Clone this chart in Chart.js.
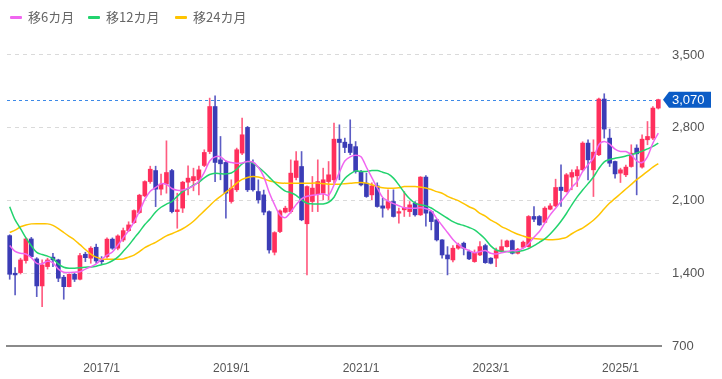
<!DOCTYPE html>
<html><head><meta charset="utf-8">
<script src="https://cdn.jsdelivr.net/npm/chart.js@4/dist/chart.umd.min.js"></script>
<style>
body{margin:0;background:#fff;}
#wrap{position:relative;width:722px;height:379px;}
.lg{position:absolute;top:8px;height:18px;font-family:"Noto Sans CJK JP","Noto Sans",sans-serif;font-size:13px;color:#666;line-height:18px;white-space:nowrap;}
.lg i{position:absolute;left:0;top:8px;width:12px;height:3px;border-radius:1px;}
.lg span{position:absolute;left:18px;top:0;}
</style></head>
<body>
<div id="wrap">
<canvas id="c" width="722" height="379"></canvas>
<div class="lg" style="left:10px"><i style="background:#f066f0"></i><span>移6カ月</span></div>
<div class="lg" style="left:88px"><i style="background:#22d36e"></i><span>移12カ月</span></div>
<div class="lg" style="left:175px"><i style="background:#ffc400"></i><span>移24カ月</span></div>
</div>
<script>
// monthly candles 2015/8 .. 2025/8
const startYear = 2015, startMonth = 8, monthCount = 121;
const tickLabels = ['2017/1','2019/1','2021/1','2023/1','2025/1'];
const yTicks = [700,1400,2100,2800,3500];

const opens = [1762,1400,1406,1522,1730,1538,1278,1464,1555,1528,
1362,1271,1390,1342,1583,1545,1650,1528,1560,1728,
1641,1720,1810,1887,1984,2144,2282,2388,2209,2258,
2388,1993,2027,2276,2290,2299,2437,2571,3004,2491,
2466,2090,2203,2556,2803,2459,2186,2154,1993,1602,
1801,1988,1993,2321,2427,1876,2090,2164,2170,2282,
2299,2690,2661,2642,2618,2378,2267,2154,2241,2048,
2026,2090,1978,2010,1993,2074,1962,2325,1993,1914,
1721,1576,1528,1641,1689,1608,1512,1576,1666,1545,
1545,1608,1656,1714,1592,1650,1656,1946,1946,1890,
2016,2048,2228,2186,2325,2337,2395,2652,2395,2540,
3076,2700,2475,2363,2347,2427,2604,2421,2684,2700,
2989];
const highs = [1770,1454,1545,1740,1745,1550,1528,1545,1592,1535,
1380,1395,1400,1592,1602,1656,1680,1560,1740,1740,
1770,1835,1895,2010,2160,2290,2430,2430,2353,2674,
2400,2170,2285,2433,2411,2430,2588,3085,3108,2716,
2480,2299,2604,2892,2813,2491,2299,2200,2000,1800,
2010,2045,2491,2571,2571,2240,2331,2491,2411,2475,
2844,2828,2700,2876,2667,2390,2363,2270,2270,2122,
2203,2203,2026,2186,2090,2090,2330,2340,2000,1920,
1725,1656,1665,1690,1700,1624,1624,1704,1680,1550,
1641,1721,1720,1720,1640,1710,1955,2041,1955,2040,
2070,2305,2443,2360,2395,2427,2665,2684,2684,3085,
3127,2787,2480,2411,2440,2636,2636,2732,2860,3004,
3075];
const lows = [1342,1191,1393,1496,1550,1175,1078,1440,1464,1319,
1150,1268,1320,1335,1512,1496,1496,1490,1545,1630,
1625,1705,1800,1880,1975,2135,2265,2041,2154,2170,
1980,1833,1984,2154,2193,2154,2425,2550,2282,2299,
1930,2074,2186,2540,2186,2190,2074,1962,1592,1576,
1790,1980,1978,2299,1905,1384,1993,1993,2106,2106,
2267,2299,2560,2540,2363,2240,2130,2106,2035,1939,
2010,1940,1881,1946,1946,1950,1955,1852,1817,1710,
1545,1384,1510,1630,1576,1530,1505,1570,1495,1490,
1464,1600,1650,1585,1585,1640,1650,1897,1860,1885,
2010,2040,2042,2180,2203,2234,2390,2299,2138,2530,
2700,2427,2315,2273,2330,2420,2154,2411,2636,2684,
2980];
const closes = [1390,1384,1528,1730,1560,1278,1480,1528,1528,1352,
1271,1390,1342,1570,1550,1641,1518,1512,1728,1641,
1759,1810,1865,2003,2151,2282,2401,2209,2258,2369,
1993,2010,2276,2315,2330,2395,2562,3004,2466,2453,
2170,2219,2588,2732,2203,2203,2106,1988,1624,1791,
2000,2026,2363,2481,1914,2234,2219,2282,2299,2347,
2690,2658,2610,2562,2378,2250,2138,2241,2042,2026,
2090,1946,1993,2032,2058,1962,2325,1978,1897,1721,
1576,1538,1641,1673,1641,1538,1598,1656,1502,1496,
1618,1656,1711,1592,1631,1699,1946,1920,1865,2026,
2048,2225,2196,2347,2369,2395,2652,2491,2565,3076,
2787,2459,2356,2395,2421,2555,2549,2690,2716,2989,
3070];
const ma6 = [1666,1610,1592,1585,1550,1495,1492,1515,1500,1440,
1410,1406,1410,1415,1440,1462,1490,1535,1575,1605,
1670,1740,1810,1895,1995,2110,2190,2225,2260,2255,
2215,2198,2200,2217,2240,2285,2370,2480,2520,2520,
2480,2465,2458,2460,2475,2470,2420,2330,2180,2060,
1960,1935,1990,2060,2115,2140,2150,2158,2165,2150,
2250,2370,2480,2520,2535,2520,2420,2320,2220,2130,
2095,2070,2050,2030,2025,2025,2030,2020,2000,1925,
1860,1792,1725,1676,1641,1618,1598,1608,1618,1592,
1586,1598,1608,1618,1618,1641,1682,1747,1801,1882,
1962,2026,2090,2154,2228,2282,2379,2443,2507,2636,
2667,2642,2594,2571,2571,2539,2481,2465,2523,2652,
2748];
const ma12 = [2040,1913,1830,1740,1665,1600,1580,1565,1540,1490,
1458,1448,1448,1452,1458,1460,1468,1482,1495,1520,
1555,1610,1668,1735,1800,1868,1925,1990,2035,2065,
2090,2140,2185,2215,2248,2275,2318,2350,2363,2358,
2356,2365,2400,2453,2475,2459,2421,2376,2325,2273,
2228,2190,2175,2150,2106,2074,2067,2067,2067,2083,
2131,2234,2311,2356,2385,2379,2379,2388,2388,2372,
2356,2315,2250,2177,2116,2074,2058,2048,2028,1995,
1962,1929,1896,1873,1859,1840,1817,1776,1727,1663,
1624,1612,1608,1605,1608,1618,1637,1666,1698,1730,
1778,1835,1900,1975,2058,2135,2200,2262,2326,2407,
2472,2494,2506,2515,2528,2541,2557,2575,2596,2620,
2652];
const ma24 = [1793,1815,1847,1865,1875,1877,1876,1875,1860,1830,
1792,1755,1720,1675,1628,1585,1555,1538,1535,1535,
1535,1538,1555,1575,1608,1647,1673,1697,1728,1760,
1780,1803,1828,1860,1900,1950,2000,2050,2100,2140,
2180,2220,2267,2303,2322,2331,2326,2310,2290,2278,
2268,2267,2267,2267,2267,2267,2267,2267,2262,2257,
2257,2257,2262,2265,2270,2274,2267,2252,2236,2222,
2218,2218,2222,2234,2234,2234,2228,2220,2205,2185,
2170,2140,2118,2098,2070,2040,2016,1975,1950,1910,
1885,1849,1825,1798,1775,1758,1742,1735,1730,1726,
1722,1725,1732,1745,1780,1810,1835,1870,1910,1960,
2020,2075,2120,2165,2210,2255,2300,2340,2380,2420,
2455];

const months = [];
for (let k = 0; k < monthCount; k++) {
  const m = startMonth - 1 + k;
  months.push((startYear + Math.floor(m / 12)) + '/' + (m % 12 + 1));
}
const UP = '#ff2f5c', DOWN = '#3b3cb6';
const UPW = '#ff5c80', DOWNW = '#5c5dc4';
const bodyColors = opens.map((o, i) => closes[i] >= o ? UP : DOWN);
const wickColors = opens.map((o, i) => closes[i] >= o ? UPW : DOWNW);
const lastClose = closes[closes.length - 1];

const priceLine = {
  id: 'priceLine',
  beforeDatasetsDraw(chart) {
    const {ctx, chartArea: a, scales: {y}} = chart;
    const py = Math.round(y.getPixelForValue(lastClose)) + 0.5;
    ctx.save();
    ctx.strokeStyle = '#3d8ae8';
    ctx.lineWidth = 1;
    ctx.setLineDash([3, 3]);
    ctx.beginPath(); ctx.moveTo(a.left, py); ctx.lineTo(a.right, py); ctx.stroke();
    ctx.restore();
  },
  afterDraw(chart) {
    const {ctx, chartArea: a, scales: {y}} = chart;
    const py = y.getPixelForValue(lastClose);
    ctx.save();
    ctx.fillStyle = '#0b5cc6';
    const x0 = a.right + 2, h = 8;
    ctx.beginPath();
    ctx.moveTo(x0, py);
    ctx.lineTo(x0 + 6, py - h);
    ctx.lineTo(x0 + 48, py - h);
    ctx.lineTo(x0 + 48, py + h);
    ctx.lineTo(x0 + 6, py + h);
    ctx.closePath(); ctx.fill();
    ctx.fillStyle = '#fff';
    ctx.font = '13px "Liberation Sans", Arial, sans-serif';
    ctx.textBaseline = 'middle';
    ctx.fillText(lastClose.toLocaleString('en-US'), x0 + 9, py + 0.5);
    ctx.restore();
  }
};

new Chart(document.getElementById('c'), {
  data: {
    labels: months,
    datasets: [
      {type: 'line', label: '移6カ月', data: ma6, borderColor: '#f066f0', borderWidth: 1.5, pointRadius: 0, tension: 0.3, order: 1},
      {type: 'line', label: '移12カ月', data: ma12, borderColor: '#22d36e', borderWidth: 1.5, pointRadius: 0, tension: 0.3, order: 1},
      {type: 'line', label: '移24カ月', data: ma24, borderColor: '#ffc400', borderWidth: 1.5, pointRadius: 0, tension: 0.3, order: 1},
      {type: 'bar', label: 'body', data: opens.map((o, i) => [o, closes[i]]), backgroundColor: bodyColors, barThickness: 4, grouped: false, minBarLength: 1, order: 2},
      {type: 'bar', label: 'wick', data: lows.map((l, i) => [l, highs[i]]), backgroundColor: wickColors, barThickness: 1, grouped: false, order: 3}
    ]
  },
  options: {
    responsive: false,
    animation: false,
    devicePixelRatio: 1,
    layout: {padding: {left: 7, top: 40, right: 0, bottom: 0}},
    plugins: {legend: {display: false}, tooltip: {enabled: false}},
    scales: {
      x: {
        type: 'category', offset: true,
        grid: {display: false},
        border: {display: true, color: '#8a8a8a', width: 2},
        ticks: {
          autoSkip: false, maxRotation: 0, minRotation: 0, padding: 7,
          color: '#555', font: {family: '"Liberation Sans", Arial, sans-serif', size: 12},
          callback(v) { const l = this.getLabelForValue(v); return tickLabels.includes(l) ? l : null; }
        },
        afterFit(s) { s.height = 33; }
      },
      y: {
        position: 'right', min: 700, max: 3644,
        afterBuildTicks(s) { s.ticks = yTicks.map(v => ({value: v})); },
        grid: {color: c => (c.tick && c.tick.value === 700) ? 'rgba(0,0,0,0)' : '#dadada', drawTicks: false, lineWidth: 1},
        border: {display: false, dash: [4, 4]},
        ticks: {padding: 11, color: '#555', font: {family: '"Liberation Sans", Arial, sans-serif', size: 13},
          callback: v => v.toLocaleString('en-US')},
        afterFit(s) { s.width = 61; }
      }
    }
  },
  plugins: [priceLine]
});
</script>
</body></html>
